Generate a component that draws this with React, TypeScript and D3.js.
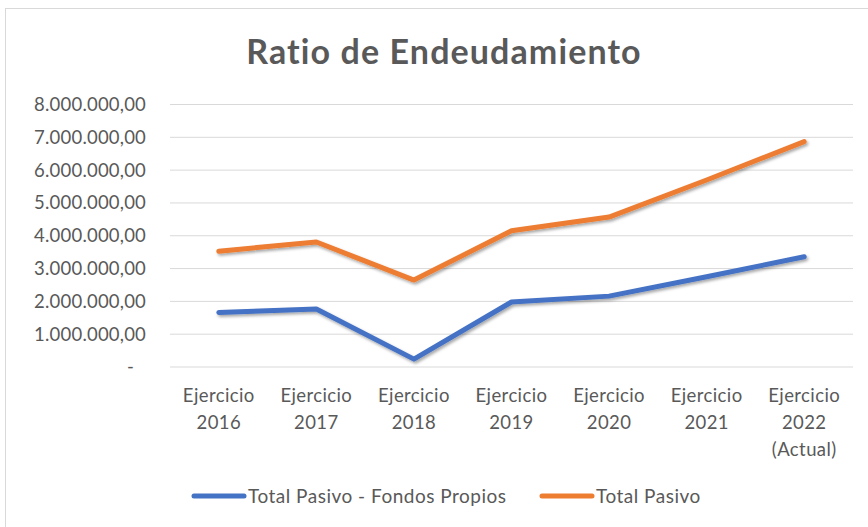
import React from 'react';
import * as d3 from 'd3';

const categories = ['Ejercicio\n2016', 'Ejercicio\n2017', 'Ejercicio\n2018', 'Ejercicio\n2019', 'Ejercicio\n2020', 'Ejercicio\n2021', 'Ejercicio\n2022\n(Actual)'];
const pasivoMenosFondos = [1660000, 1770000, 240000, 1980000, 2160000, 2750000, 3360000];
const totalPasivo = [3530000, 3810000, 2650000, 4150000, 4570000, 5700000, 6870000];
const yTicks = [0, 1000000, 2000000, 3000000, 4000000, 5000000, 6000000, 7000000, 8000000];

const seriesNames = ['Total Pasivo - Fondos Propios', 'Total Pasivo'];
const seriesColors = ['#4472C4', '#ED7D31'];

const font = 'Lato, "Noto Sans", sans-serif';
const textColor = '#595959';

const fmt = (v: number) => {
  if (v === 0) return '-';
  const s = Math.round(v).toString().replace(/\B(?=(\d{3})+(?!\d))/g, '.');
  return s + ',00';
};

export default function App() {
  const width = 868;
  const height = 527;
  const plotLeft = 170;
  const plotRight = 853;

  const x = d3.scaleBand<string>().domain(categories).range([plotLeft, plotRight]);
  const y = d3.scaleLinear().domain([0, 8000000]).range([367, 104.5]);
  const cx = (c: string) => (x(c) ?? 0) + x.bandwidth() / 2;

  const line = d3.line<number>()
    .x((_, i) => cx(categories[i]))
    .y(d => y(d));

  const series = [pasivoMenosFondos, totalPasivo];

  return (
    <svg width={width} height={height} style={{ position: 'absolute', left: 0, top: 0, background: '#fff' }}>
      <defs>
        <filter id="shadow" x="-10%" y="-30%" width="120%" height="160%">
          <feDropShadow dx="1.5" dy="2" stdDeviation="1.6" floodColor="#000" floodOpacity="0.35" />
        </filter>
      </defs>
      <rect x={5.5} y={8.5} width={870} height={530} fill="#fff" stroke="#d9d9d9" strokeWidth={1} />

      <text x={444} y={64} textAnchor="middle" fontFamily={font} fontWeight="bold" fontSize={34} letterSpacing={1.1} fill={textColor}>
        Ratio de Endeudamiento
      </text>

      {yTicks.map(t => (
        <g key={t}>
          <line x1={plotLeft} x2={plotRight} y1={y(t)} y2={y(t)} stroke="#d9d9d9" strokeWidth={1} />
          <text x={t === 0 ? 134 : 146} y={y(t)} dy="0.35em" textAnchor="end" fontFamily={font} fontSize={18.5} letterSpacing={0.2} fill={textColor}>
            {fmt(t)}
          </text>
        </g>
      ))}

      {categories.map(c => (
        <text key={c} x={cx(c)} y={402} textAnchor="middle" fontFamily={font} fontSize={18.5} letterSpacing={0.4} fill={textColor}>
          {c.split('\n').map((l, i) => (
            <tspan key={i} x={cx(c)} dy={i === 0 ? 0 : 27}>{l}</tspan>
          ))}
        </text>
      ))}

      {series.map((s, i) => (
        <path key={i} d={line(s) ?? ''} fill="none" stroke={seriesColors[i]} strokeWidth={5}
          strokeLinecap="round" strokeLinejoin="round" filter="url(#shadow)" />
      ))}

      {seriesNames.map((n, i) => {
        const lx = [194, 542][i];
        return (
          <g key={n}>
            <line x1={lx} x2={lx + 50} y1={496} y2={496} stroke={seriesColors[i]} strokeWidth={5} strokeLinecap="round" />
            <text x={lx + 54} y={496} dy="0.35em" fontFamily={font} fontSize={19} letterSpacing={0.5} fill={textColor}>{n}</text>
          </g>
        );
      })}
    </svg>
  );
}
